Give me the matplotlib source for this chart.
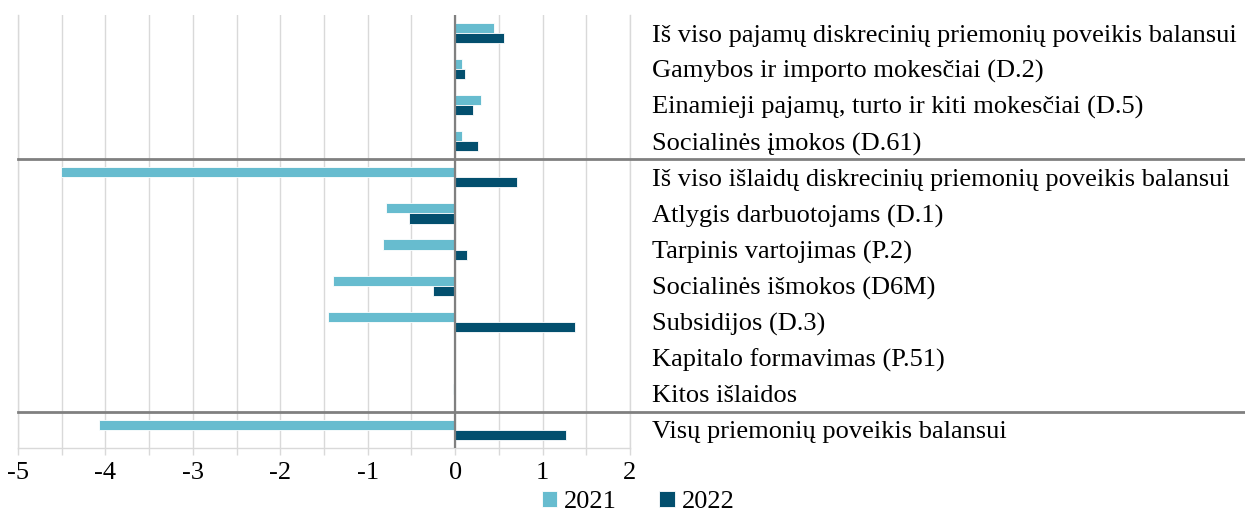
import matplotlib
matplotlib.use("Agg")
import matplotlib.pyplot as plt
import numpy as np

categories = [
    "Iš viso pajamų diskrecinių priemonių poveikis balansui",
    "Gamybos ir importo mokesčiai (D.2)",
    "Einamieji pajamų, turto ir kiti mokesčiai (D.5)",
    "Socialinės įmokos (D.61)",
    "Iš viso išlaidų diskrecinių priemonių poveikis balansui",
    "Atlygis darbuotojams (D.1)",
    "Tarpinis vartojimas (P.2)",
    "Socialinės išmokos (D6M)",
    "Subsidijos (D.3)",
    "Kapitalo formavimas (P.51)",
    "Kitos išlaidos",
    "Visų priemonių poveikis balansui",
]
values_2021 = [0.45, 0.075, 0.30, 0.075, -4.51, -0.79, -0.82, -1.40, -1.45, 0.0, -0.03, -4.07]
values_2022 = [0.56, 0.11, 0.20, 0.26, 0.71, -0.53, 0.14, -0.25, 1.37, 0.0, 0.0, 1.27]
series_names = ["2021", "2022"]
x_ticks = [-5, -4, -3, -2, -1, 0, 1, 2]

plt.rcParams['font.family'] = ['Liberation Serif', 'DejaVu Serif']
FS = 19
W, H = 1245, 515
fig = plt.figure(figsize=(W / 100, H / 100), dpi=100)
ax = fig.add_axes([18 / W, 1 - 448 / H, (630 - 18) / W, (448 - 15) / H])

c2021 = "#67bccf"
c2022 = "#034f6e"
y = np.arange(len(categories))
bh = 0.28
ax.barh(y - bh / 2, values_2021, height=bh, color=c2021, edgecolor="white",
        linewidth=0.6, label=series_names[0], zorder=3)
ax.barh(y + bh / 2, values_2022, height=bh, color=c2022, edgecolor="white",
        linewidth=0.6, label=series_names[1], zorder=3)

ax.set_xlim(-5, 2)
ax.set_ylim(len(categories) - 0.5, -0.5)

ax.set_xticks(x_ticks)
ax.set_xticklabels([str(t) for t in x_ticks], fontsize=FS)
ax.set_xticks(np.arange(-4.5, 2, 1.0), minor=True)
ax.tick_params(axis='x', which='both', direction='out', length=5, width=1,
               color="#d9d9d9", pad=5)
ax.grid(axis='x', which='both', color="#d9d9d9", linewidth=1, zorder=0)
ax.axvline(0, color="#808080", linewidth=1.6, zorder=4)

ax.yaxis.tick_right()
ax.set_yticks(y)
ax.set_yticklabels(categories, fontsize=FS)
ax.tick_params(axis='y', length=0, pad=16)

ax.spines["top"].set_visible(False)
for s in ["left", "right", "bottom"]:
    ax.spines[s].set_color("#d9d9d9")
    ax.spines[s].set_linewidth(1)

# group separators extending into the label area
xmax_ax = (W - 18) / (630 - 18)
for ysep in [3.5, 10.5]:
    ax.axhline(ysep, xmin=0, xmax=xmax_ax, color="#808080", linewidth=2,
               clip_on=False, zorder=5)

fig.legend(loc='center', bbox_to_anchor=(638 / W, 1 - 502 / H), ncol=2,
           frameon=False, fontsize=FS, handlelength=0.6, handleheight=0.6,
           handletextpad=0.25, columnspacing=1.6, borderpad=0)

fig.savefig("out.png", dpi=100)
